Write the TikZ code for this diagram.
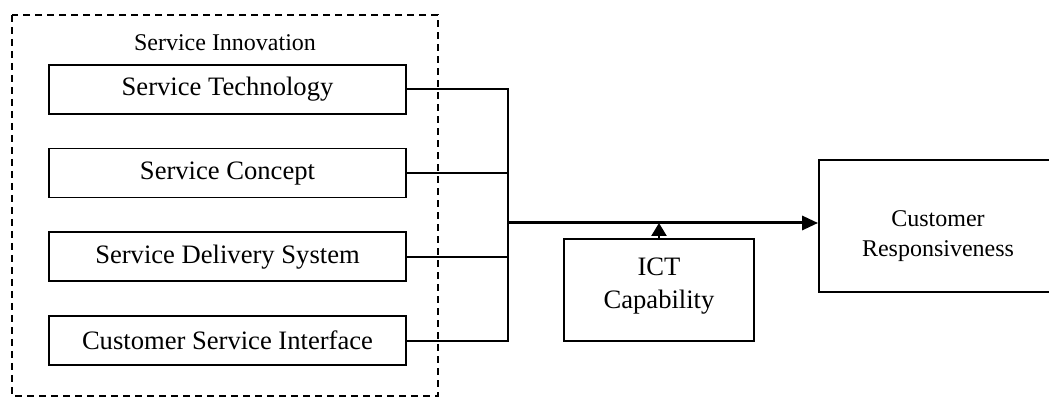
\documentclass[tikz,border=0pt]{standalone}
\usepackage{fontspec}
\setmainfont{Liberation Serif}
\usepackage{tikz}
\usetikzlibrary{
  matrix,
  positioning,
  arrows.meta
}

\begin{document}
\begin{tikzpicture}[x=0.5pt, y=-0.5pt,
    every node/.style={rectangle, text centered, inner sep=0pt},
    field/.style={draw, line width=0.9pt, minimum width=178.5pt, minimum height=24.5pt, font=\fontsize{13.3}{16}\selectfont},
    link/.style={line width=0.9pt},
    flow/.style={line width=1.5pt, -{Triangle[length=8pt, width=7pt]}}]
\useasboundingbox (0,0) rectangle (1049,399);
\draw [dash pattern=on 3.5pt off 2.5pt, line width=0.7pt] (12,15) rectangle (438,396);
\node (title) at (225,43) {\fontsize{12}{14}\selectfont Service Innovation};
\matrix (m) at (227.5,215) [ampersand replacement=\&, row sep=16.5pt, inner sep=0pt]
{
\node [field] (tech) {Service Technology}; \\
\node [field] (concept) {Service Concept}; \\
\node [field] (delivery) {Service Delivery System}; \\
\node [field] (iface) {Customer Service Interface}; \\
};
\coordinate (bustop) at (508,90);
\coordinate (bus) at (508,223);
\draw [link] (tech.east) -- (tech.east -| bustop) -- (iface.east -| bustop) -- (iface.east);
\draw [link] (concept.east) -- (concept.east -| bustop);
\draw [link] (delivery.east) -- (delivery.east -| bustop);
\node [draw, line width=0.9pt, minimum width=119pt, minimum height=66pt, font=\fontsize{12}{15}\selectfont] (resp) at (938,226)
  {\raisebox{-8pt}[0pt][0pt]{\begin{tabular}{@{}c@{}}Customer\\Responsiveness\end{tabular}}};
\node [draw, line width=0.9pt, minimum width=95pt, minimum height=51pt, font=\fontsize{13.3}{16.5}\selectfont] (ict) at (659,290)
  {\raisebox{-1.5pt}[0pt][0pt]{\begin{tabular}{@{}c@{}}ICT\\Capability\end{tabular}}};
\draw [flow] (bus) -- (bus -| resp.west);
\draw [line width=1.2pt, -{Triangle[length=6.5pt, width=7.5pt]}] (ict.north) -- (ict.north |- bus);
\end{tikzpicture}
\end{document}
